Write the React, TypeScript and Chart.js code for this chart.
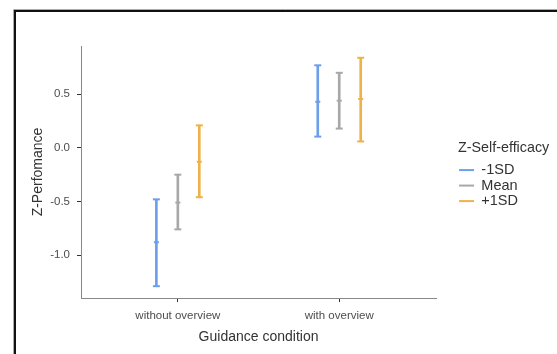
import React, { useEffect, useRef } from "react";
import { Chart, registerables } from "chart.js";

Chart.register(...registerables);

const categories = ["without overview", "with overview"];
const seriesNames = ["-1SD", "Mean", "+1SD"];
const seriesColors = ["#6d9eeb", "#a8a8a8", "#efb24a"];
const dodge = [-0.133, 0, 0.133];

const meanMinus = [-0.88, 0.43];
const lowMinus = [-1.29, 0.105];
const highMinus = [-0.48, 0.77];

const meanMean = [-0.51, 0.44];
const lowMean = [-0.76, 0.18];
const highMean = [-0.25, 0.7];

const meanPlus = [-0.13, 0.456];
const lowPlus = [-0.46, 0.06];
const highPlus = [0.21, 0.84];

const yTicks = [-1, -0.5, 0, 0.5];
const xTicks = [1, 2];

const means = [meanMinus, meanMean, meanPlus];
const lows = [lowMinus, lowMean, lowPlus];
const highs = [highMinus, highMean, highPlus];

const framePlugin = {
  id: "frame",
  afterDraw(chart: any) {
    const { ctx, width, height } = chart;
    ctx.save();
    ctx.strokeStyle = "#aaaaaa";
    ctx.lineWidth = 1;
    ctx.beginPath();
    ctx.moveTo(13.5, height);
    ctx.lineTo(13.5, 9.5);
    ctx.lineTo(width, 9.5);
    ctx.stroke();
    ctx.strokeStyle = "#111111";
    ctx.lineWidth = 2;
    ctx.beginPath();
    ctx.moveTo(15, height);
    ctx.lineTo(15, 11);
    ctx.lineTo(width, 11);
    ctx.stroke();
    ctx.restore();
  },
};

// place the legend a little to the right of the plot, as in the reference
const legendShiftPlugin = {
  id: "legendShift",
  afterLayout(chart: any) {
    const lg = chart.legend;
    if (!lg) return;
    lg.left = chart.chartArea.right + 22;
    lg.right = chart.width;
    lg.width = lg.right - lg.left;
    lg.top += 3;
    lg.bottom += 3;
  },
};

export default function App() {
  const ref = useRef<HTMLCanvasElement | null>(null);

  useEffect(() => {
    if (!ref.current) return;
    Chart.defaults.font.family = "'Liberation Sans', Arial, sans-serif";

    const barSets = seriesNames.map((name, s) => ({
      type: "bar" as const,
      label: name,
      data: categories.map((_, i) => ({ x: xTicks[i] + dodge[s], y: [lows[s][i], highs[s][i]] })),
      backgroundColor: seriesColors[s],
      borderWidth: 0,
      barThickness: 2,
      grouped: false,
    }));
    const capSets = seriesNames.map((name, s) => ({
      type: "scatter" as const,
      label: name + " caps",
      data: categories.flatMap((_, i) => [
        { x: xTicks[i] + dodge[s], y: lows[s][i] },
        { x: xTicks[i] + dodge[s], y: means[s][i] },
        { x: xTicks[i] + dodge[s], y: highs[s][i] },
      ]),
      pointStyle: "line",
      pointRadius: (c: any) => (c.dataIndex % 3 === 1 ? 2.5 : 3.5),
      pointBorderWidth: 2,
      borderColor: seriesColors[s],
      backgroundColor: seriesColors[s],
      showLine: false,
    }));

    const chart = new Chart(ref.current, {
      type: "bar",
      data: { datasets: [...barSets, ...capSets] as any },
      options: {
        animation: false,
        responsive: false,
        maintainAspectRatio: false,
        layout: { padding: { left: 0, top: 46, right: 51, bottom: 0 } },
        plugins: {
          tooltip: { enabled: false },
          legend: {
            position: "right",
            fullSize: false,
            title: {
              display: true,
              text: "Z-Self-efficacy",
              position: "start",
              color: "#333333",
              font: { size: 14.3 },
              padding: { top: 0, bottom: 4 },
            },
            labels: {
              filter: (item: any) => item.datasetIndex < 3,
              boxWidth: 15,
              boxHeight: 2,
              padding: 1,
              color: "#333333",
              font: { size: 14.5 },
            },
          },
        },
        scales: {
          x: {
            type: "linear",
            min: 0.4,
            max: 2.6,
            offset: false,
            afterBuildTicks: (scale: any) => {
              scale.ticks = xTicks.map((v) => ({ value: v }));
            },
            afterFit: (scale: any) => {
              scale.height = 56;
            },
            ticks: {
              autoSkip: false,
              maxRotation: 0,
              padding: 7,
              color: "#4d4d4d",
              font: { size: 11.5 },
              callback: (v: any) => categories[Number(v) - 1] ?? "",
            },
            grid: {
              display: true,
              offset: false,
              drawOnChartArea: false,
              tickLength: 4,
              tickColor: "#333333",
              tickWidth: 1,
            },
            border: { display: true, color: "#888888", width: 1 },
            title: {
              display: true,
              text: "Guidance condition",
              color: "#333333",
              font: { size: 14 },
              padding: { top: 0, bottom: 8.6 },
            },
          },
          y: {
            type: "linear",
            min: -1.4,
            max: 0.95,
            afterBuildTicks: (scale: any) => {
              scale.ticks = yTicks.map((v) => ({ value: v }));
            },
            afterFit: (scale: any) => {
              scale.width = 81;
            },
            ticks: {
              padding: 7,
              color: "#4d4d4d",
              font: { size: 11.5 },
              callback: (v: any) => Number(v).toFixed(1),
            },
            grid: { display: true, drawOnChartArea: false, tickLength: 4, tickColor: "#333333", tickWidth: 1 },
            border: { display: true, color: "#888888", width: 1 },
            title: {
              display: true,
              text: "Z-Perfomance",
              color: "#333333",
              font: { size: 14 },
              padding: { top: 29.6, bottom: 0 },
            },
          },
        },
      },
      plugins: [framePlugin, legendShiftPlugin],
    });
    return () => chart.destroy();
  }, []);

  return (
    <div style={{ position: "fixed", left: 0, top: 0, width: 557, height: 354, background: "#ffffff" }}>
      <canvas ref={ref} width={557} height={354} style={{ display: "block", width: 557, height: 354 }} />
    </div>
  );
}
